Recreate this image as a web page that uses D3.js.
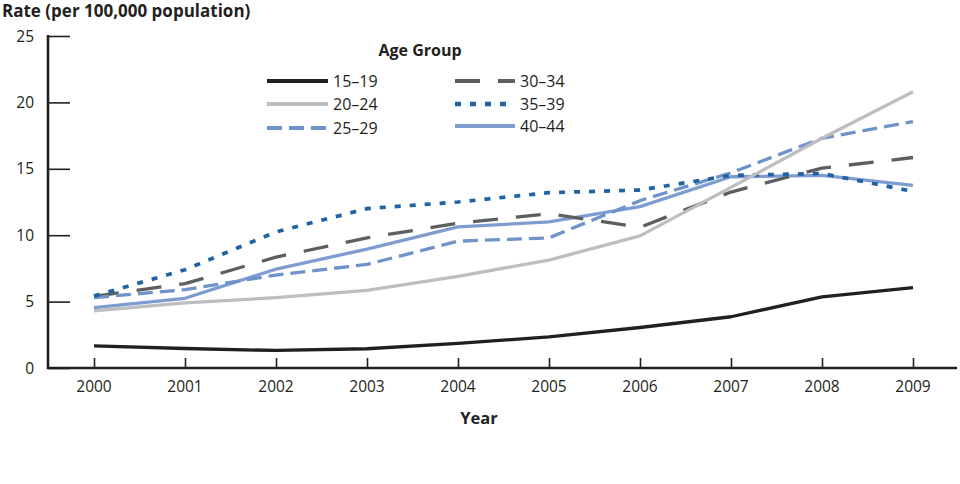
<!DOCTYPE html>
<html><head><meta charset="utf-8">
<script src="https://cdn.jsdelivr.net/npm/d3@7"></script>
<style>
body{margin:0;background:#fff;}
text{font-family:"Open Sans",Lato,sans-serif;fill:#231f20;}
</style></head>
<body><svg id="c" width="960" height="484"></svg>
<script>
const years = [2000,2001,2002,2003,2004,2005,2006,2007,2008,2009];
const groups = ["15–19","20–24","25–29","30–34","35–39","40–44"];
const v15_19 = [1.66,1.47,1.32,1.45,1.85,2.35,3.05,3.86,5.35,6.05];
const v20_24 = [4.3,4.9,5.3,5.85,6.9,8.13,9.95,13.6,17.3,20.8];
const v25_29 = [5.3,5.9,7.0,7.8,9.55,9.8,12.6,14.7,17.3,18.55];
const v30_34 = [5.4,6.35,8.35,9.8,10.9,11.62,10.6,13.25,15.05,15.85];
const v35_39 = [5.42,7.4,10.25,12.0,12.5,13.2,13.4,14.5,14.65,13.3];
const v40_44 = [4.55,5.25,7.45,8.95,10.62,11.0,12.15,14.4,14.5,13.75];
const yTicks = [0,5,10,15,20,25];

const styles = {
 "15–19":{color:"#231f20",w:3.3,dash:null},
 "20–24":{color:"#bcbec0",w:3.3,dash:null},
 "25–29":{color:"#6f93c9",w:3.3,dash:"15,7"},
 "30–34":{color:"#5d5e60",w:3.3,dash:"25,18"},
 "35–39":{color:"#2062a2",w:3.7,dash:"6,9"},
 "40–44":{color:"#7d9dd0",w:3.3,dash:null}
};
const data = {"15–19":v15_19,"20–24":v20_24,"25–29":v25_29,"30–34":v30_34,"35–39":v35_39,"40–44":v40_44};

const svg = d3.select("#c");
const x = d3.scalePoint().domain(years).range([94,913]);
const y = d3.scaleLinear().domain([0,25]).range([368,36]);

// y axis
const yAx = svg.append("g").attr("transform","translate(48,0)")
  .call(d3.axisRight(y).tickValues(yTicks).tickSize(22).tickFormat(""));
yAx.select(".domain").remove();
yAx.selectAll("line").attr("stroke","#231f20").attr("stroke-width",1.6);
svg.append("line").attr("x1",48).attr("x2",48).attr("y1",y(25)-1).attr("y2",369)
  .attr("stroke","#231f20").attr("stroke-width",2.6);
svg.selectAll(".yl").data(yTicks).enter().append("text")
  .attr("x",34).attr("y",d=>y(d)+5.5).attr("text-anchor","end")
  .style("font-size","15.5px").text(d=>d);

// x axis
const xAx = svg.append("g").attr("transform","translate(0,368)")
  .call(d3.axisTop(x).tickSize(10).tickFormat(""));
xAx.select(".domain").remove();
xAx.selectAll("line").attr("stroke","#231f20").attr("stroke-width",1.6);
svg.append("line").attr("x1",47).attr("x2",957).attr("y1",368).attr("y2",368)
  .attr("stroke","#231f20").attr("stroke-width",2.6);
svg.selectAll(".xl").data(years).enter().append("text")
  .attr("x",d=>x(d)).attr("y",392).attr("text-anchor","middle")
  .style("font-size","15.5px").text(d=>d);

svg.append("text").attr("x",479).attr("y",424).attr("text-anchor","middle")
  .style("font-size","16.5px").style("font-weight","bold").text("Year");
svg.append("text").attr("x",2).attr("y",17)
  .style("font-size","17px").style("font-weight","bold").text("Rate (per 100,000 population)");

// lines
const line = d3.line().x((d,i)=>x(years[i])).y(d=>y(d));
const order = ["40–44","30–34","25–29","35–39","15–19","20–24"];
order.forEach(g=>{
  const s = styles[g];
  svg.append("path").datum(data[g]).attr("d",line)
    .attr("fill","none").attr("stroke",s.color).attr("stroke-width",s.w)
    .attr("stroke-linejoin","round")
    .attr("stroke-dasharray",s.dash);
});

// legend
svg.append("text").attr("x",420).attr("y",56).attr("text-anchor","middle")
  .style("font-size","16px").style("font-weight","bold").text("Age Group");
const legPos = [[267,328,333,81],[267,328,333,104],[267,328,333,128],[455,515,520,81],[455,515,520,104],[455,515,520,126]];
groups.forEach((g,i)=>{
  const s = styles[g], p = legPos[i];
  svg.append("line").attr("x1",p[0]).attr("x2",p[1]).attr("y1",p[3]).attr("y2",p[3])
    .attr("stroke",s.color).attr("stroke-width",s.w+0.6).attr("stroke-dasharray",s.dash);
  svg.append("text").attr("x",p[2]).attr("y",p[3]+6).style("font-size","16px").text(g);
});
</script></body></html>
